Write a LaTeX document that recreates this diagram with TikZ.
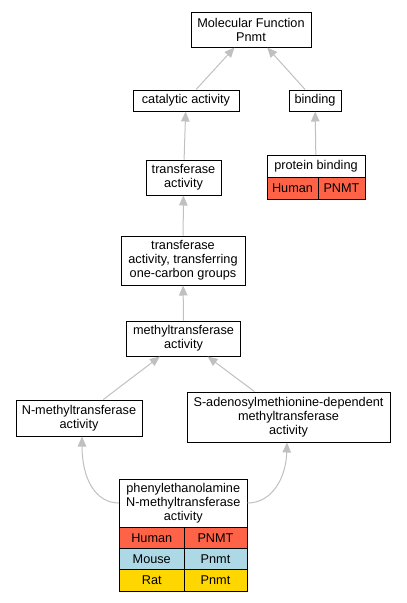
\documentclass[tikz,border=0pt]{standalone}
\usepackage{fontspec}
\setmainfont{Liberation Sans}
\usetikzlibrary{arrows.meta}
\definecolor{edgegray}{RGB}{192,192,192}
\definecolor{human}{RGB}{255,99,71}
\definecolor{mouse}{RGB}{173,216,230}
\definecolor{rat}{RGB}{255,215,0}
\begin{document}
\begin{tikzpicture}[x=1pt,y=1pt,
  box/.style={draw=black, line width=1pt, fill=white, inner sep=0pt, align=center,
    font=\fontsize{12.7}{14}\selectfont},
  cell/.style={box},
  edge/.style={draw=edgegray, line width=1pt, -{Triangle[length=10pt,width=8.5pt]}}]
\useasboundingbox (0,0) rectangle (407,-603);
% nodes
\node[box, minimum width=120pt, minimum height=35pt] (mf) at (251,-29.5) {Molecular Function\\Pnmt};
\node[box, minimum width=106pt, minimum height=21pt] (cat) at (186,-100.5) {catalytic activity};
\node[box, minimum width=52pt, minimum height=21pt] (bind) at (315,-100.5) {binding};
\node[box, minimum width=75pt, minimum height=35pt] (tr) at (183.5,-177.5) {transferase\\activity};
\node[box, minimum width=98pt, minimum height=22pt] (pb) at (316,-166.5) {protein binding};
\node[cell, fill=human, minimum width=51pt, minimum height=22pt] (pbh) at (292.5,-188) {Human};
\node[cell, fill=human, minimum width=47pt, minimum height=22pt] (pbg) at (341.5,-188) {PNMT};
\node[box, minimum width=124pt, minimum height=49pt] (tone) at (183,-260.5) {transferase\\activity, transferring\\one-carbon groups};
\node[box, minimum width=114pt, minimum height=35pt] (mt) at (183.5,-338.5) {methyltransferase\\activity};
\node[box, minimum width=126pt, minimum height=36pt] (nmt) at (79,-418) {N-methyltransferase\\activity};
\node[box, minimum width=203pt, minimum height=50pt] (sam) at (288.5,-417) {S-adenosylmethionine-dependent\\methyltransferase\\activity};
\node[box, minimum width=127.5pt, minimum height=48pt] (phen) at (183.25,-503) {phenylethanolamine\\N-methyltransferase\\activity};
\node[cell, fill=human, minimum width=64.5pt, minimum height=21.5pt] (ph1) at (151.75,-537.75) {Human};
\node[cell, fill=human, minimum width=63pt, minimum height=21.5pt] (ph2) at (215.5,-537.75) {PNMT};
\node[cell, fill=mouse, minimum width=64.5pt, minimum height=21.5pt] (pm1) at (151.75,-559.25) {Mouse};
\node[cell, fill=mouse, minimum width=63pt, minimum height=21.5pt] (pm2) at (215.5,-559.25) {Pnmt};
\node[cell, fill=rat, minimum width=64.5pt, minimum height=21.5pt] (pr1) at (151.75,-580.5) {Rat};
\node[cell, fill=rat, minimum width=63pt, minimum height=21.5pt] (pr2) at (215.5,-580.5) {Pnmt};
% edges
\draw[edge] (cat) -- (mf);
\draw[edge] (bind) -- (mf);
\draw[edge] (tr) -- (cat);
\draw[edge] (pb) -- (bind);
\draw[edge] (tone) -- (tr);
\draw[edge] (mt) -- (tone);
\draw[edge] (nmt) -- (mt);
\draw[edge] (sam) -- (mt);
\draw[edge] (phen.west) .. controls (95,-503) and (82,-478) .. ([xshift=3pt]nmt.south);
\draw[edge] (phen.east) .. controls (272,-503) and (286,-478) .. ([xshift=-1.5pt]sam.south);
\end{tikzpicture}
\end{document}
